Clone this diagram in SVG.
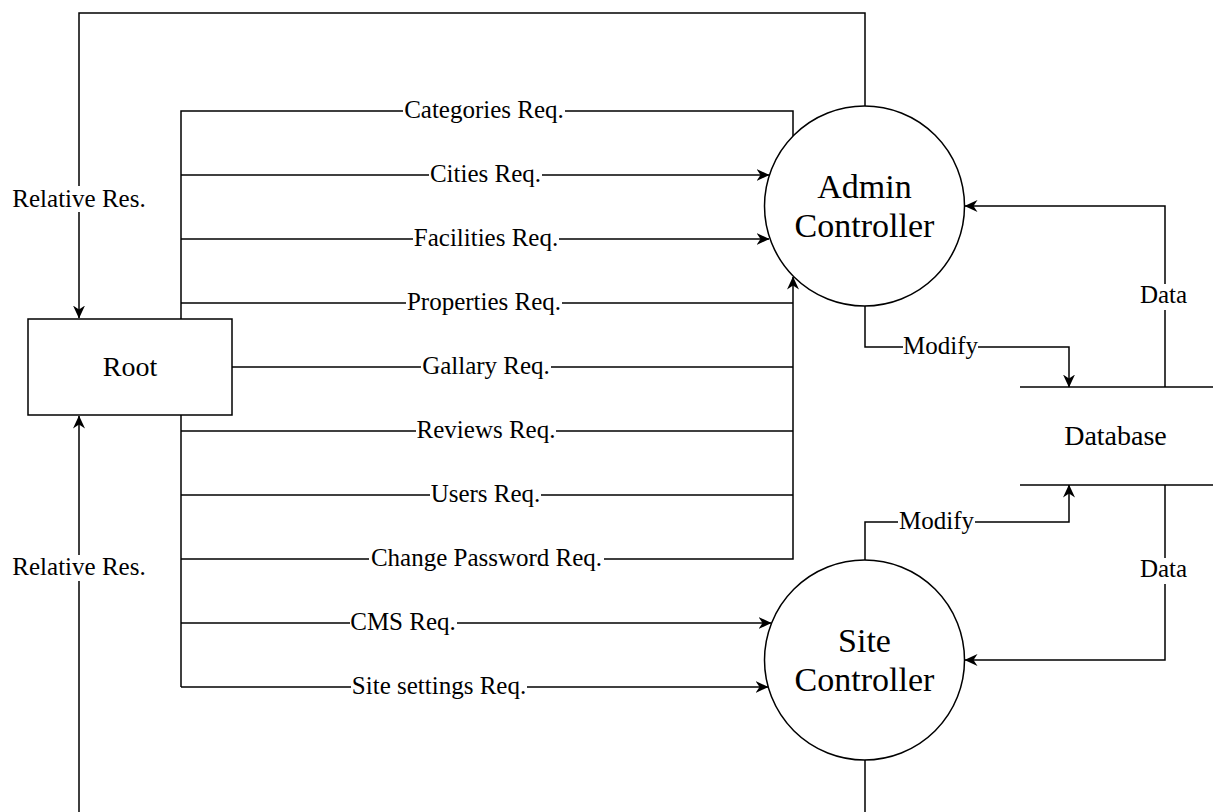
<svg xmlns="http://www.w3.org/2000/svg" width="1213" height="812" viewBox="0 0 1213 812">
<style>
.ln{fill:none;stroke:#000;stroke-width:1.5}
.shape{fill:#fff;stroke:#000;stroke-width:1.5}
.lbl{font-family:"Liberation Serif","Times New Roman",serif;font-size:25px;fill:#000;text-anchor:middle}
.bg{fill:#fff;stroke:none}
.big{font-family:"Liberation Serif","Times New Roman",serif;fill:#000;text-anchor:middle}
</style>
<defs>
<marker id="arr" viewBox="0 0 13 12" markerWidth="13" markerHeight="12" refX="12.5" refY="6" orient="auto" markerUnits="userSpaceOnUse">
<path d="M0,0 L13,6 L0,12 L4,6 Z" fill="#000"/>
</marker>
</defs>
<rect width="1213" height="812" fill="#fff"/>
<g id="connectors">
<path class="ln" d="M865,106 V13 H79 V318" marker-end="url(#arr)"/>
<path class="ln" d="M865,760 V840 H79 V416" marker-end="url(#arr)"/>
<path class="ln" d="M181,319 V111 H793 V136"/>
<path class="ln" d="M181,175 H769" marker-end="url(#arr)"/>
<path class="ln" d="M181,239 H769" marker-end="url(#arr)"/>
<path class="ln" d="M181,303 H793"/>
<path class="ln" d="M232,367 H793"/>
<path class="ln" d="M181,415 V687"/>
<path class="ln" d="M181,431 H793"/>
<path class="ln" d="M181,495 H793"/>
<path class="ln" d="M181,559 H793 V277" marker-end="url(#arr)"/>
<path class="ln" d="M181,623 H771" marker-end="url(#arr)"/>
<path class="ln" d="M181,687 H768" marker-end="url(#arr)"/>
<path class="ln" d="M865,306 V347 H1069 V387" marker-end="url(#arr)"/>
<path class="ln" d="M865,560 V522 H1069 V485" marker-end="url(#arr)"/>
<path class="ln" d="M1165,387 V206 H965" marker-end="url(#arr)"/>
<path class="ln" d="M1165,485 V660 H965" marker-end="url(#arr)"/>
<g id="edge-labels">
<rect class="bg" x="12" y="186" width="134" height="26"/>
<text class="lbl" x="79" y="207">Relative Res.</text>
<rect class="bg" x="12" y="555" width="134" height="26"/>
<text class="lbl" x="79" y="575">Relative Res.</text>
<rect class="bg" x="403" y="99" width="162" height="24"/>
<text class="lbl" x="484" y="118">Categories Req.</text>
<rect class="bg" x="429" y="163" width="113" height="24"/>
<text class="lbl" x="485.5" y="182">Cities Req.</text>
<rect class="bg" x="413" y="227" width="146" height="24"/>
<text class="lbl" x="486" y="246">Facilities Req.</text>
<rect class="bg" x="406" y="291" width="156" height="24"/>
<text class="lbl" x="484" y="310">Properties Req.</text>
<rect class="bg" x="421" y="355" width="130" height="24"/>
<text class="lbl" x="486" y="374">Gallary Req.</text>
<rect class="bg" x="416" y="419" width="140" height="24"/>
<text class="lbl" x="486" y="438">Reviews Req.</text>
<rect class="bg" x="430" y="483" width="111" height="24"/>
<text class="lbl" x="485.5" y="502">Users Req.</text>
<rect class="bg" x="369" y="547" width="235" height="24"/>
<text class="lbl" x="486.5" y="566">Change Password Req.</text>
<rect class="bg" x="350" y="611" width="107" height="24"/>
<text class="lbl" x="403" y="630">CMS Req.</text>
<rect class="bg" x="351" y="675" width="176" height="24"/>
<text class="lbl" x="439" y="694">Site settings Req.</text>
<rect class="bg" x="903" y="335" width="75" height="24"/>
<text class="lbl" x="940.5" y="354">Modify</text>
<rect class="bg" x="898" y="510" width="77" height="24"/>
<text class="lbl" x="936.5" y="529">Modify</text>
<rect class="bg" x="1139" y="284" width="49" height="26"/>
<text class="lbl" x="1163.5" y="303">Data</text>
<rect class="bg" x="1139" y="558" width="49" height="26"/>
<text class="lbl" x="1163.5" y="577">Data</text>
</g>
</g>
<g id="root">
<rect class="shape" x="28" y="319" width="204" height="96"/>
<text class="big" x="130" y="376" font-size="28">Root</text>
</g>
<g id="admin-controller">
<circle class="shape" cx="864.5" cy="206" r="100" stroke-width="1.3"/>
<text class="big" x="864.5" y="198" font-size="34">Admin</text>
<text class="big" x="864.5" y="237" font-size="34">Controller</text>
</g>
<g id="site-controller">
<circle class="shape" cx="864.5" cy="660" r="100" stroke-width="1.3"/>
<text class="big" x="864.5" y="652" font-size="34">Site</text>
<text class="big" x="864.5" y="691" font-size="34">Controller</text>
</g>
<g id="database">
<line class="ln" x1="1020" y1="387" x2="1213" y2="387"/>
<line class="ln" x1="1020" y1="485" x2="1213" y2="485"/>
<text class="big" x="1115.5" y="445" font-size="28">Database</text>
</g>
</svg>
